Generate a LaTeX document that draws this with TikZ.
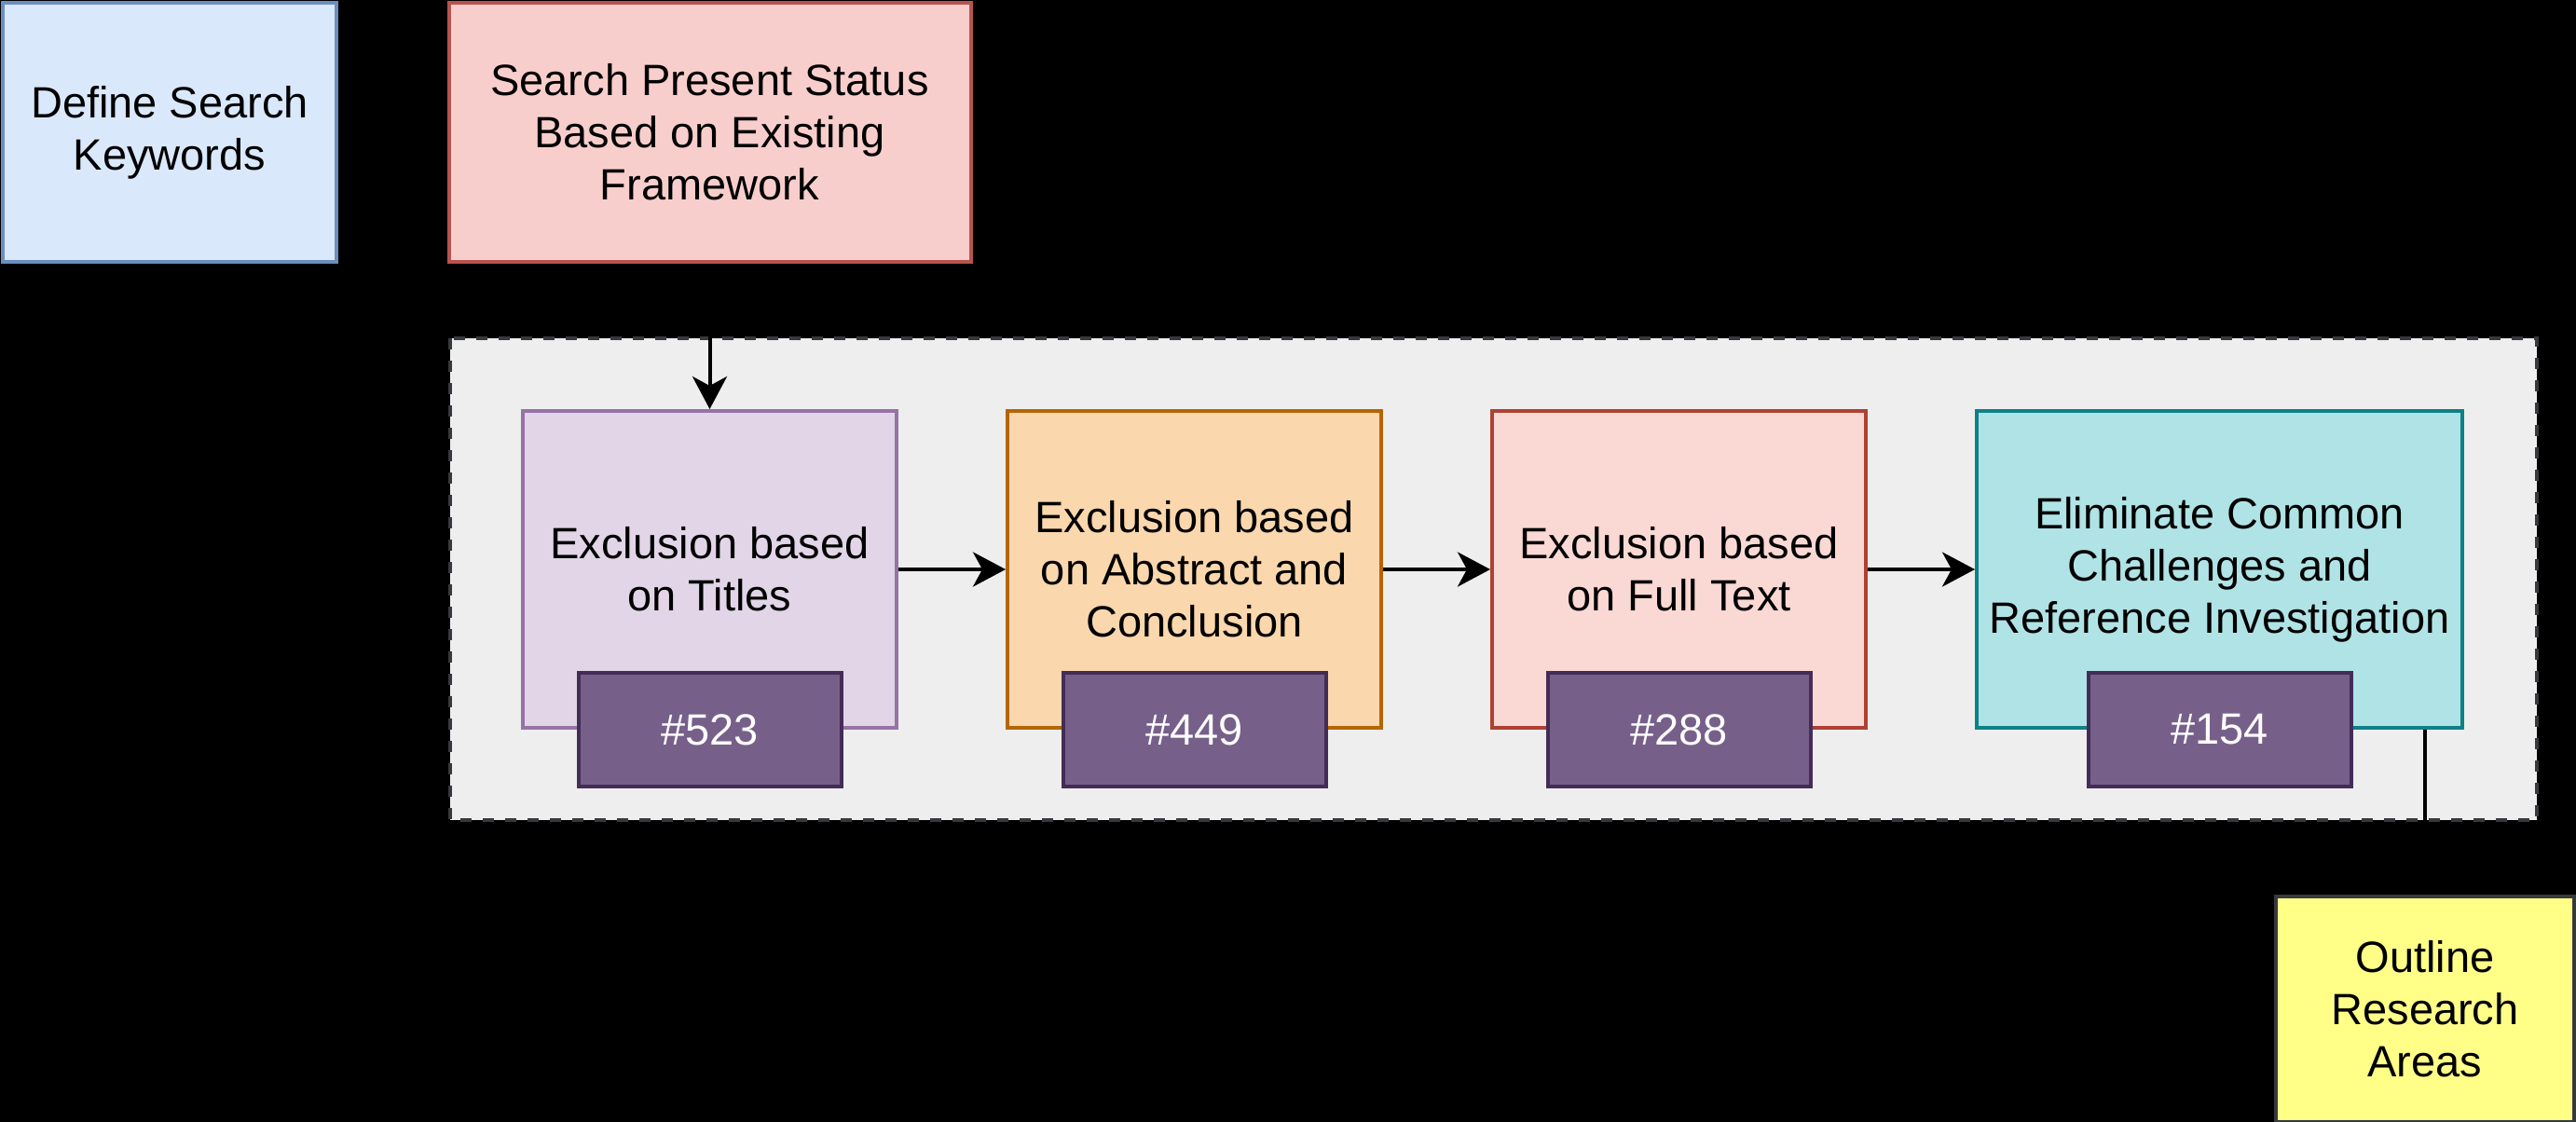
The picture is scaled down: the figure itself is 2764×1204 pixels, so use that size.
\documentclass[tikz,border=0pt]{standalone}
\usepackage{fontspec}
\setmainfont{Liberation Sans}
\usetikzlibrary{arrows.meta}

\definecolor{blueFill}{HTML}{DAE8FC}  \definecolor{blueLine}{HTML}{6C8EBF}
\definecolor{redFill}{HTML}{F8CECC}   \definecolor{redLine}{HTML}{B85450}
\definecolor{lilaFill}{HTML}{E1D5E7}  \definecolor{lilaLine}{HTML}{9673A6}
\definecolor{orgFill}{HTML}{FAD7AC}   \definecolor{orgLine}{HTML}{B46504}
\definecolor{roseFill}{HTML}{FAD9D5}  \definecolor{roseLine}{HTML}{AE4132}
\definecolor{cyanFill}{HTML}{B0E3E6}  \definecolor{cyanLine}{HTML}{0E8088}
\definecolor{cntFill}{HTML}{76608A}   \definecolor{cntLine}{HTML}{432D57}
\definecolor{yelFill}{HTML}{FFFF88}   \definecolor{greyLine}{HTML}{36393D}
\definecolor{boxBack}{HTML}{EEEEEE}

\begin{document}
\begin{tikzpicture}[x=1pt, y=-1pt,
		card/.style={draw, line width=4pt, inner sep=0pt, align=center,
			font=\fontsize{47}{56}\selectfont},
		count/.style={card, fill=cntFill, draw=cntLine, text=white,
			minimum width=282pt, minimum height=122pt},
		flow/.style={line width=4pt, -{Stealth[length=35pt, width=37pt, inset=10pt]}}]
	% page and background
	\fill[black] (0,0) rectangle (2764,1204);
	\useasboundingbox (0,0) rectangle (2764,1204);
	% group frame
	\draw[fill=boxBack, draw=greyLine, line width=4pt, dash pattern=on 12pt off 12pt] (483,363) rectangle (2722,880);
	% top row
	\node[card, fill=blueFill, draw=blueLine, minimum width=358pt, minimum height=278pt] (keywords) at (182,142) {Define Search\\Keywords};
	\node[card, fill=redFill, draw=redLine, minimum width=560pt, minimum height=278pt] (status) at (761.5,142) {Search Present Status\\Based on Existing\\Framework};
	% screening steps
	\node[card, fill=lilaFill, draw=lilaLine, minimum width=401pt, minimum height=340pt] (titles) at (761.5,611) {Exclusion based\\on Titles};
	\node[card, fill=orgFill, draw=orgLine, minimum width=401pt, minimum height=340pt] (abstract) at (1281.5,611) {Exclusion based\\on Abstract and\\Conclusion};
	\node[card, fill=roseFill, draw=roseLine, minimum width=401pt, minimum height=340pt] (fulltext) at (1801.5,611) {Exclusion based\\on Full Text};
	\node[card, fill=cyanFill, draw=cyanLine, minimum width=521pt, minimum height=340pt] (common) at (2381.5,611) {Eliminate Common\\Challenges and\\Reference Investigation};
	% counts
	\node[count] (n523) at (titles.south) {\#523};
	\node[count] (n449) at (abstract.south) {\#449};
	\node[count] (n288) at (fulltext.south) {\#288};
	\node[count] (n154) at (common.south) {\#154};
	% result
	\node[card, fill=yelFill, draw=greyLine, minimum width=320pt, minimum height=242pt] (outline) at (2602,1083) {Outline\\Research\\Areas};
	% connectors
	\draw[flow] (status.south) -- (titles.north);
	\draw[flow] (titles.east) -- (abstract.west);
	\draw[flow] (abstract.east) -- (fulltext.west);
	\draw[flow] (fulltext.east) -- (common.west);
	\draw[flow] (common.south -| outline.north) -- (outline.north);
\end{tikzpicture}
\end{document}
